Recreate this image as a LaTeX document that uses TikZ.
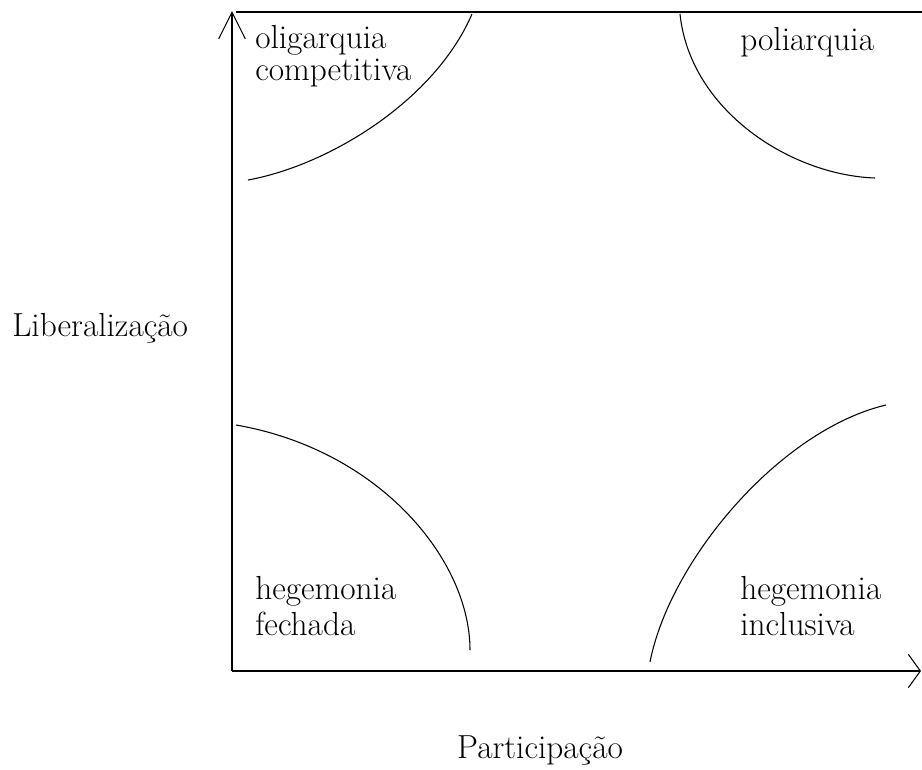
\documentclass[tikz,border=0pt]{standalone}
\usepackage{fontspec}
\usepackage{tikz}
\usetikzlibrary{arrows.meta}
\tikzset{
  lbl/.style={inner sep=0pt,font=\fontsize{25}{30}\selectfont},
  curve/.style={black,thick}
}

\begin{document}
\begin{tikzpicture}[x=0.75pt,y=-0.75pt]
    \useasboundingbox (0,0) rectangle (922,769);

    \coordinate (o) at (232,671);
    \coordinate (ytop) at (232,11);
    \coordinate (xend) at (921,671);
    \coordinate (tl) at (236,12);
    \coordinate (tr) at (922,12);

    \node[lbl,anchor=west] (1) at (255,40) {oligarquia};
    \node[lbl,anchor=west] (2) at (255,73) {competitiva};
    \node[lbl,anchor=west] (3) at (740,42) {poliarquia};
    \node[lbl,anchor=west] (4) at (255,591) {hegemonia};
    \node[lbl,anchor=west] (5) at (255,624) {fechada};
    \node[lbl,anchor=west] (6) at (740,591) {hegemonia};
    \node[lbl,anchor=west] (7) at (740,624) {inclusiva};
    \node[lbl,anchor=west] (8) at (12,328) {Liberalização};
    \node[lbl] (9) at (540,750) {Participação};

    \path[black,thick]
    (o) edge [-{Straight Barb[length=20pt,width=20pt]}] (ytop)
    (o) edge [-{Straight Barb[length=9pt,width=25pt]}] (xend)
    (tl) edge [-] (tr);

    % the four regions
    \draw[curve] (248,180) .. controls (330,165) and (435,100) .. (472,14);
    \draw[curve] (680,14) .. controls (690,110) and (790,175) .. (875,178);
    \draw[curve] (236,425) .. controls (380,450) and (470,560) .. (470,650);
    \draw[curve] (650,662) .. controls (670,560) and (780,430) .. (886,405);
\end{tikzpicture}
\end{document}
